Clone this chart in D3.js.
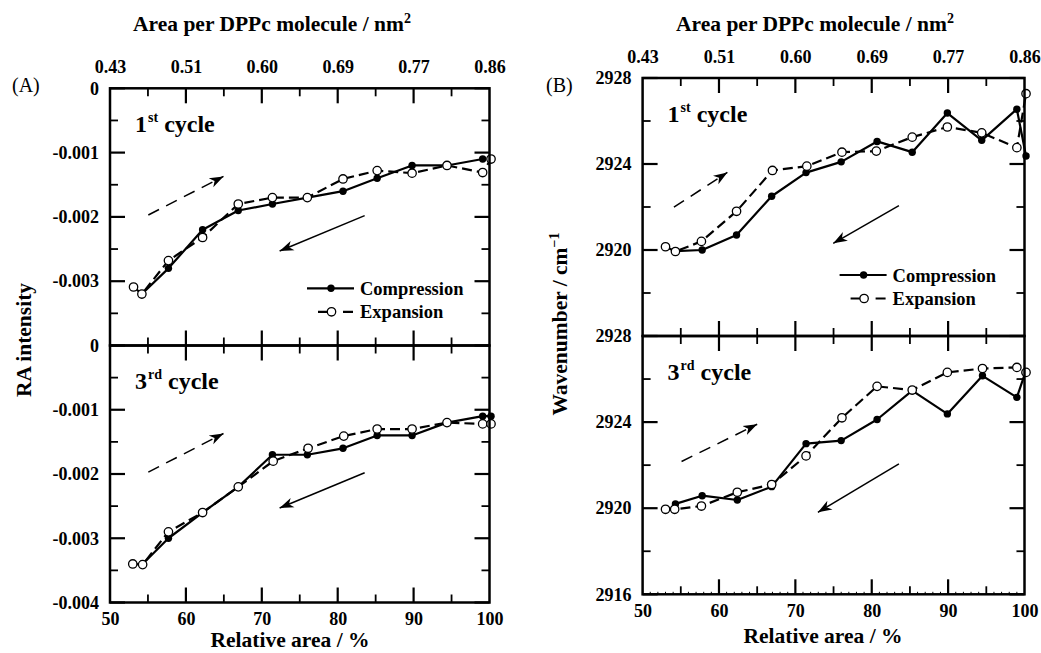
<!DOCTYPE html>
<html><head><meta charset="utf-8">
<script src="https://cdn.jsdelivr.net/npm/d3@7"></script>
<style>
html,body{margin:0;padding:0;background:#fff;}
svg{display:block;}
</style></head><body>
<svg id="chart" width="1041" height="653"></svg>
<script>
// ---------- axis / tick data ----------
const areaDomain = [50, 100];
const areaTicks = [50, 60, 70, 80, 90, 100];
const areaMajorInner = [60, 70, 80, 90];
const areaMinor = [55, 65, 75, 85, 95];
const molAreaLabels = ["0.43", "0.51", "0.60", "0.69", "0.77", "0.86"];
const areaFine = [51,52,53,54,56,57,58,59,61,62,63,64,66,67,68,69,71,72,73,74,76,77,78,79,81,82,83,84,86,87,88,89,91,92,93,94,96,97,98,99];

const raDomain = [-0.004, 0];
const raMajor = [0, -0.001, -0.002, -0.003, -0.004];
const raLabels = ["0", "-0.001", "-0.002", "-0.003", "-0.004"];
const raMinor = [-0.0005, -0.0015, -0.0025, -0.0035];

const wnDomain = [2916, 2928];
const wnMajor = [2928, 2924, 2920, 2916];
const wnLabels = ["2928", "2924", "2920", "2916"];
const wnMinor = [2926, 2922, 2918];

// ---------- series data ----------
// Panel A, 1st cycle
const areaA1Comp = [54.2, 57.7, 62.2, 66.9, 71.4, 76.0, 80.7, 85.2, 89.8, 94.4, 99.1];
const raA1Comp   = [-0.0032, -0.0028, -0.0022, -0.0019, -0.0018, -0.0017, -0.0016, -0.0014, -0.0012, -0.0012, -0.0011];
const areaA1Exp  = [53.1, 54.2, 57.7, 62.2, 66.9, 71.4, 76.0, 80.7, 85.2, 89.8, 94.4, 99.1, 100.2];
const raA1Exp    = [-0.00309, -0.0032, -0.00268, -0.00232, -0.0018, -0.0017, -0.0017, -0.00141, -0.00128, -0.00132, -0.0012, -0.00131, -0.0011];
// Panel A, 3rd cycle
const areaA3Comp = [54.3, 57.7, 62.2, 66.9, 71.4, 76.0, 80.7, 85.2, 89.8, 94.4, 99.1, 100.2];
const raA3Comp   = [-0.0034, -0.0030, -0.0026, -0.0022, -0.0017, -0.0017, -0.0016, -0.0014, -0.0014, -0.0012, -0.0011, -0.0011];
const areaA3Exp  = [53.0, 54.3, 57.7, 62.2, 66.9, 71.5, 76.1, 80.8, 85.2, 89.8, 94.4, 99.1, 100.2];
const raA3Exp    = [-0.0034, -0.00341, -0.0029, -0.0026, -0.0022, -0.0018, -0.0016, -0.00141, -0.0013, -0.0013, -0.0012, -0.00122, -0.00122];
// Panel B, 1st cycle
const areaB1Comp = [54.3, 57.8, 62.3, 66.9, 71.4, 76.0, 80.7, 85.3, 89.9, 94.4, 99.0, 100.2];
const wnB1Comp   = [2919.95, 2920.0, 2920.7, 2922.5, 2923.6, 2924.1, 2925.05, 2924.55, 2926.37, 2925.1, 2926.55, 2924.37];
const areaB1Exp  = [53.0, 54.3, 57.7, 62.3, 67.0, 71.5, 76.1, 80.6, 85.3, 89.9, 94.4, 99.0, 100.2];
const wnB1Exp    = [2920.15, 2919.93, 2920.4, 2921.8, 2923.7, 2923.9, 2924.55, 2924.6, 2925.25, 2925.72, 2925.45, 2924.76, 2927.27];
// Panel B, 3rd cycle
const areaB3Comp = [54.3, 57.8, 62.4, 66.9, 71.4, 76.0, 80.7, 85.3, 89.9, 94.5, 99.0, 100.1];
const wnB3Comp   = [2920.2, 2920.58, 2920.38, 2921.0, 2923.0, 2923.14, 2924.12, 2925.46, 2924.38, 2926.15, 2925.15, 2926.3];
const areaB3Exp  = [53.0, 54.2, 57.7, 62.4, 66.9, 71.4, 76.1, 80.7, 85.3, 89.9, 94.5, 99.0, 100.2];
const wnB3Exp    = [2919.95, 2919.95, 2920.1, 2920.74, 2921.1, 2922.43, 2924.2, 2925.66, 2925.49, 2926.31, 2926.49, 2926.54, 2926.31];

// ---------- direction arrows (data units: [area, value]) ----------
const arrowA_exp  = [[55.05, -0.00197], [64.95, -0.00137]];
const arrowA_comp = [[83.55, -0.00198], [72.35, -0.00253]];
const arrowB1_exp  = [[54.1, 2921.99], [61.1, 2923.61]];
const arrowB1_comp = [[83.56, 2922.06], [74.96, 2920.31]];
const arrowB3_exp  = [[55.1, 2922.17], [65.0, 2923.9]];
const arrowB3_comp = [[83.56, 2922.06], [72.95, 2919.81]];

// ---------- drawing ----------
const FONT = '"Liberation Serif","Times New Roman",serif';
const svg = d3.select("#chart");

const defs = svg.append("defs");
defs.append("marker").attr("id", "head")
  .attr("markerUnits", "userSpaceOnUse")
  .attr("viewBox", "-14 -6 15 12")
  .attr("markerWidth", 15).attr("markerHeight", 12)
  .attr("refX", 0).attr("refY", 0).attr("orient", "auto")
  .append("path").attr("d", "M0,0 L-14,-5 L-10,0 L-14,5 Z").attr("fill", "#000");

function styleText(sel, size, weight) {
  sel.attr("font-family", FONT).attr("font-size", size).attr("font-weight", weight || "bold").attr("fill", "#000");
}

function drawPanel(P) {
  const g = svg.append("g");
  const x = d3.scaleLinear().domain(areaDomain).range([P.left, P.right]);

  function tickMarks(side, scale, vals, len, pos, sw) {
    const vert = side === "left" || side === "right";
    const dir = (side === "left" || side === "top") ? 1 : -1;
    g.append("g").selectAll("line").data(vals).join("line")
      .attr("x1", d => vert ? pos : scale(d))
      .attr("x2", d => vert ? pos + dir * len : scale(d))
      .attr("y1", d => vert ? scale(d) : pos)
      .attr("y2", d => vert ? scale(d) : pos + dir * len)
      .attr("stroke", "#000").attr("stroke-width", sw);
  }
  function labels(gen, scale, vals, labs, tr, pad) {
    const a = gen(scale).tickValues(vals).tickSize(0).tickPadding(pad)
      .tickFormat(d => labs[vals.indexOf(d)]);
    const el = g.append("g").attr("transform", tr).call(a);
    el.select(".domain").remove();
    el.selectAll(".tick line").remove();
    styleText(el.selectAll("text"), 18);
  }

  P.subs.forEach((S, si) => {
    const y = d3.scaleLinear().domain(P.yDomain).range(si === 0 ? [P.mid, P.top] : [P.bottom, P.mid]);
    const yb = y.range()[0], yt = y.range()[1];

    // tick labels
    labels(d3.axisLeft, y, S.yMajor, S.yLabels, `translate(${P.left},0)`, 11);
    if (si === 0) labels(d3.axisTop, x, areaTicks, molAreaLabels, `translate(0,${yt})`, 15);
    if (si === 1) labels(d3.axisBottom, x, areaTicks, areaTicks.map(String), `translate(0,${yb})`, 10);

    // cycle label
    const cl = g.append("text").attr("x", P.left + 25).attr("y", yt + 43.5);
    styleText(cl, 24);
    cl.append("tspan").text(S.cycle[0]);
    cl.append("tspan").attr("font-size", 14).attr("dy", -10).attr("dx", 1).text(S.cycle[1]);
    cl.append("tspan").attr("font-size", 24).attr("dy", 10).text(" cycle");

    // arrows
    const aline = d3.line().x(d => x(d[0])).y(d => y(d[1]));
    g.append("path").attr("d", aline(S.arrows[0])).attr("fill", "none").attr("stroke", "#000")
      .attr("stroke-width", 1.5).attr("stroke-dasharray", "12,8").attr("marker-end", "url(#head)");
    g.append("path").attr("d", aline(S.arrows[1])).attr("fill", "none").attr("stroke", "#000")
      .attr("stroke-width", 1.5).attr("marker-end", "url(#head)");

    // series
    const line = d3.line().x(d => x(d[0])).y(d => y(d[1]));
    const comp = d3.zip(S.compX, S.compY);
    const exp = d3.zip(S.expX, S.expY);
    g.append("path").datum(comp).attr("d", line).attr("fill", "none").attr("stroke", "#000")
      .attr("stroke-width", 2.2).attr("stroke-linejoin", "round");
    g.append("g").selectAll("circle").data(comp).join("circle")
      .attr("cx", d => x(d[0])).attr("cy", d => y(d[1])).attr("r", 3.7).attr("fill", "#000");
    g.append("path").datum(exp).attr("d", line).attr("fill", "none").attr("stroke", "#000")
      .attr("stroke-width", 2.2).attr("stroke-dasharray", "10,5");
    g.append("g").selectAll("circle").data(exp).join("circle")
      .attr("cx", d => x(d[0])).attr("cy", d => y(d[1])).attr("r", 4.2)
      .attr("fill", "#fff").attr("stroke", "#000").attr("stroke-width", 1.3);

    // legend (top subplot only)
    if (si === 0) {
      const lx = P.left + 197, ly = P.mid + P.legendDY;
      g.append("line").attr("x1", lx).attr("x2", lx + 47).attr("y1", ly).attr("y2", ly)
        .attr("stroke", "#000").attr("stroke-width", 2.2);
      g.append("circle").attr("cx", lx + 24).attr("cy", ly).attr("r", 3.7).attr("fill", "#000");
      const t1 = g.append("text").attr("x", lx + 53).attr("y", ly + 6.5).text("Compression");
      styleText(t1, 18.5);
      const ly2 = ly + 23.5;
      g.append("line").attr("x1", lx + 11).attr("x2", lx + 46).attr("y1", ly2).attr("y2", ly2)
        .attr("stroke", "#000").attr("stroke-width", 2.2).attr("stroke-dasharray", "10,15,12");
      g.append("circle").attr("cx", lx + 24.5).attr("cy", ly2).attr("r", 4.2)
        .attr("fill", "#fff").attr("stroke", "#000").attr("stroke-width", 1.3);
      const t2 = g.append("text").attr("x", lx + 53).attr("y", ly2 + 6.5).text("Expansion");
      styleText(t2, 18.5);
    }

    // frame
    g.append("rect").attr("x", P.left).attr("y", yt).attr("width", P.right - P.left).attr("height", yb - yt)
      .attr("fill", "none").attr("stroke", "#000").attr("stroke-width", 2.5);

    // tick marks (inward), drawn last
    tickMarks("left", y, P.yMinor, 8, P.left, 1.8);
    tickMarks("left", y, S.yMajor, 15, P.left, 2.2);
    tickMarks("right", y, P.yMinor, 8, P.right, 1.8);
    tickMarks("right", y, S.yMajor, 15, P.right, 2.2);
    tickMarks("top", x, areaMinor, 8, yt, 1.8);
    tickMarks("top", x, areaMajorInner, 15, yt, 2.2);
    tickMarks("bottom", x, areaMinor, 8, yb, 1.8);
    tickMarks("bottom", x, areaMajorInner, 15, yb, 2.2);
    if (si === 1 && P.fine) tickMarks("bottom", x, areaFine, 2.5, yb, 1);
  });

  // titles
  const tt = g.append("text").attr("x", P.topTitleX).attr("y", 31).attr("text-anchor", "middle");
  styleText(tt, 21.5);
  tt.append("tspan").text("Area per DPPc molecule / nm");
  tt.append("tspan").attr("font-size", 14).attr("dy", -8).text("2");

  const bt = g.append("text").attr("x", P.botTitleX).attr("y", P.botTitleY).attr("text-anchor", "middle")
    .text("Relative area / %");
  styleText(bt, 21.5);

  const yl = g.append("text").attr("transform", `translate(${P.yTitleX},${P.yTitleY}) rotate(-90)`)
    .attr("text-anchor", "middle");
  styleText(yl, 21.5);
  yl.append("tspan").text(P.yTitle[0]);
  if (P.yTitle[1]) yl.append("tspan").attr("font-size", 14).attr("dy", -8).text(P.yTitle[1]);

  const pl = g.append("text").attr("x", P.tagX).attr("y", 92).text(P.tag);
  styleText(pl, 20, "normal");
}

drawPanel({
  left: 110, right: 489.5, top: 88.3, mid: 345.5, bottom: 602.5,
  yDomain: raDomain, yMinor: raMinor, legendDY: -57.2,
  topTitleX: 272, botTitleX: 290, botTitleY: 647,
  yTitle: ["RA intensity"], yTitleX: 31, yTitleY: 340,
  tag: "(A)", tagX: 12,
  subs: [
    { yMajor: raMajor.slice(0, 4), yLabels: raLabels.slice(0, 4), cycle: ["1", "st"],
      compX: areaA1Comp, compY: raA1Comp, expX: areaA1Exp, expY: raA1Exp, arrows: [arrowA_exp, arrowA_comp] },
    { yMajor: raMajor, yLabels: raLabels, cycle: ["3", "rd"],
      compX: areaA3Comp, compY: raA3Comp, expX: areaA3Exp, expY: raA3Exp, arrows: [arrowA_exp, arrowA_comp] }
  ]
});

drawPanel({
  left: 642.6, right: 1024.5, top: 78, mid: 336, bottom: 594.3, fine: true,
  yDomain: wnDomain, yMinor: wnMinor, legendDY: -61,
  topTitleX: 815, botTitleX: 823, botTitleY: 643,
  yTitle: ["Wavenumber / cm", "\u22121"], yTitleX: 567, yTitleY: 324,
  tag: "(B)", tagX: 546,
  subs: [
    { yMajor: wnMajor.slice(0, 3), yLabels: wnLabels.slice(0, 3), cycle: ["1", "st"],
      compX: areaB1Comp, compY: wnB1Comp, expX: areaB1Exp, expY: wnB1Exp, arrows: [arrowB1_exp, arrowB1_comp] },
    { yMajor: wnMajor, yLabels: wnLabels, cycle: ["3", "rd"],
      compX: areaB3Comp, compY: wnB3Comp, expX: areaB3Exp, expY: wnB3Exp, arrows: [arrowB3_exp, arrowB3_comp] }
  ]
});
</script>
</body></html>
